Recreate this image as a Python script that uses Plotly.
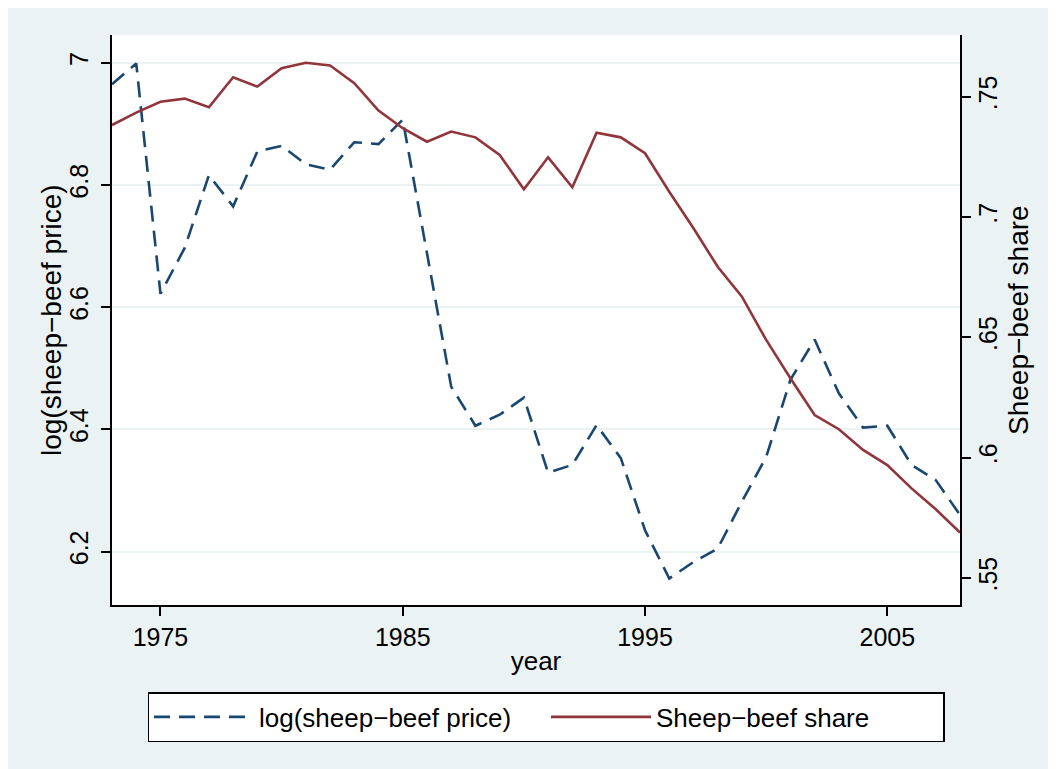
import plotly.graph_objects as go

years = list(range(1973, 2009))
log_price = [6.965, 6.999, 6.622, 6.697, 6.816, 6.765, 6.855, 6.864, 6.834, 6.825,
             6.870, 6.867, 6.907, 6.690, 6.470, 6.406, 6.424, 6.452, 6.329, 6.342,
             6.407, 6.353, 6.235, 6.156, 6.183, 6.205, 6.282, 6.355, 6.481, 6.547,
             6.459, 6.403, 6.406, 6.342, 6.317, 6.260]
share = [0.7382, 0.7434, 0.7479, 0.7492, 0.7456, 0.7581, 0.7542, 0.7618, 0.7641, 0.7630,
         0.7556, 0.7442, 0.7369, 0.7313, 0.7355, 0.7331, 0.7258, 0.7115, 0.7248, 0.7123,
         0.7350, 0.7331, 0.7265, 0.7105, 0.6953, 0.6793, 0.6669, 0.6489, 0.6330, 0.6177,
         0.6118, 0.6032, 0.5969, 0.5872, 0.5785, 0.5688]

x_ticks = [1975, 1985, 1995, 2005]
y1_ticks = [6.2, 6.4, 6.6, 6.8, 7.0]
y1_labels = ["6.2", "6.4", "6.6", "6.8", "7"]
y2_ticks = [0.55, 0.60, 0.65, 0.70, 0.75]
y2_labels = [".55", ".6", ".65", ".7", ".75"]

NAVY = "#1a476f"
MAROON = "#90353b"
BG = "#eaf2f3"
FONT = "Liberation Sans, Arial, sans-serif"

fig = go.Figure()
fig.add_trace(go.Scatter(x=years, y=log_price, mode="lines", name="log(sheep\u2212beef price)",
                         line=dict(color=NAVY, width=2.6, dash="16px,9px")))
fig.add_trace(go.Scatter(x=years, y=share, mode="lines", name="Sheep\u2212beef share",
                         yaxis="y2", line=dict(color=MAROON, width=2.6)))

# figure is placed at (8, 8) in the page by the body margin
W, H = 1048, 761
L, R, T, B = 104, 96, 27, 164
pw, ph = W - L - R, H - T - B

def px_x(v):
    return (v - L) / pw

def px_y(v):
    return (H - B - v) / ph

axis_common = dict(ticks="outside", ticklen=9, tickwidth=1.5, tickcolor="black",
                   showline=True, linecolor="black", linewidth=1.5,
                   zeroline=False, automargin=False)

fig.update_layout(
    width=W, height=H,
    margin=dict(l=L, r=R, t=T, b=B, pad=0),
    paper_bgcolor=BG, plot_bgcolor="white",
    font=dict(family=FONT, size=24, color="black"),
    showlegend=True,
    legend=dict(orientation="h", x=px_x(538), xanchor="center", y=px_y(684), yanchor="top",
                bgcolor="white", bordercolor="black", borderwidth=1.5,
                font=dict(family=FONT, size=26), itemwidth=100, entrywidth=282,
                traceorder="normal"),
    xaxis=dict(range=[1973, 2008], tickvals=x_ticks, showgrid=False,
               title=dict(text="year", standoff=2, font=dict(size=26)),
               tickfont=dict(size=25), **axis_common),
    yaxis=dict(range=[6.1126, 7.0455], tickvals=y1_ticks, ticktext=y1_labels,
               showgrid=True, gridcolor=BG, gridwidth=2,
               tickangle=-90, tickfont=dict(size=25), ticklabelstandoff=3,
               **axis_common),
    yaxis2=dict(range=[0.53874, 0.77564], tickvals=y2_ticks, ticktext=y2_labels,
                overlaying="y", side="right", showgrid=False, tickangle=-90,
                tickfont=dict(size=25), ticklabelstandoff=-4,
                **axis_common),
    annotations=[
        dict(text="log(sheep\u2212beef price)", xref="paper", yref="paper",
             x=px_x(43), y=0.5, xanchor="center", yanchor="middle", textangle=-90,
             showarrow=False, font=dict(size=28)),
        dict(text="Sheep\u2212beef share", xref="paper", yref="paper",
             x=px_x(1010), y=0.5, xanchor="center", yanchor="middle", textangle=-90,
             showarrow=False, font=dict(size=28)),
    ],
)

fig.write_html("out.html")
